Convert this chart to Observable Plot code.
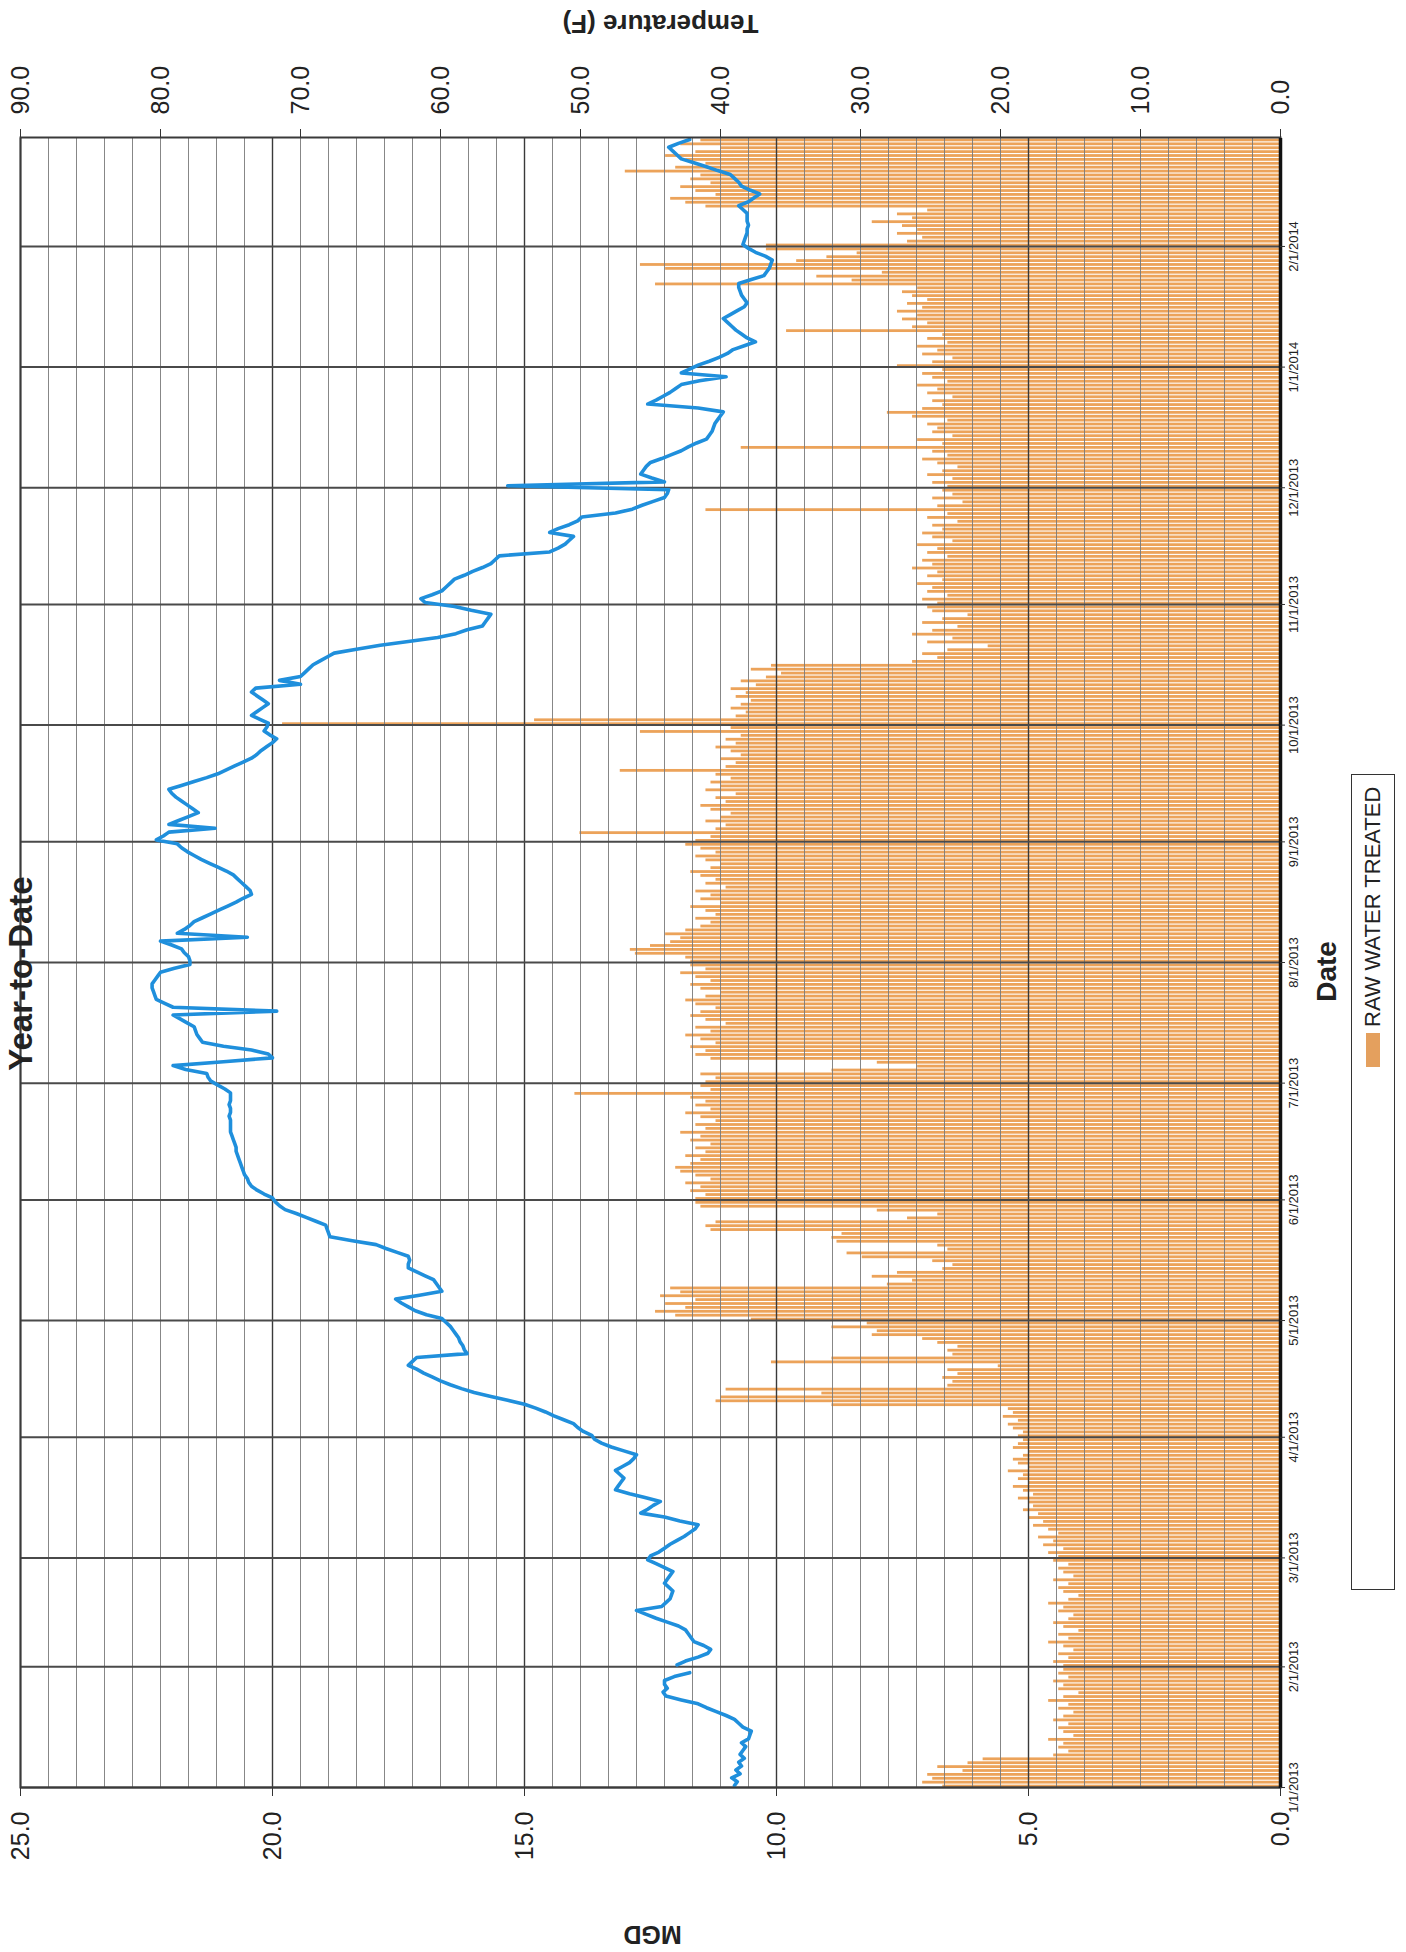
<!DOCTYPE html>
<html><head><meta charset="utf-8">
<script src="https://cdn.jsdelivr.net/npm/d3@7"></script>
<script src="https://cdn.jsdelivr.net/npm/@observablehq/plot@0.6"></script>
<style>
html,body{margin:0;padding:0;background:#fff;overflow:hidden;width:1406px;height:1952px;}
#page{position:absolute;left:0;top:0;width:1952px;height:1406px;transform-origin:0 0;transform:translate(0,1952px) rotate(-90deg);font-family:"Liberation Sans",Arial,sans-serif;background:#fff;}
#page svg{position:absolute;left:0;top:0;}
#legend{position:absolute;left:362px;top:1351px;width:816px;height:44px;border:1.5px solid #333;box-sizing:border-box;background:#fff;}
#legend .sw{position:absolute;left:522px;top:14px;width:34px;height:14px;background:#e4a05e;}
#legend .lb{position:absolute;left:562px;top:8px;font-size:22px;line-height:26px;color:#222;white-space:nowrap;}
</style></head><body><div id="page"><div id="legend"><div class="sw"></div><div class="lb">RAW WATER TREATED</div></div></div>
<script>
// ---------- data (daily) ----------
const seriesName = "RAW WATER TREATED";
const startDay = [2013, 0, 1];
const endDay = [2014, 2, 1];

// Raw water treated, MGD, one value per day
const mgdJan2013 = [6.7,7.1,6.9,7.0,6.3,6.8,6.2,5.9,4.5,4.2,4.4,4.3,4.6,4.1,4.3,4.4,4.2,4.5,4.3,4.1,4.4,4.2,4.6,4.3,4.0,4.4,4.3,4.5,4.2,4.4,4.3];
const mgdFeb2013 = [4.3,4.5,4.2,4.4,4.1,4.3,4.6,4.2,4.4,4.0,4.3,4.5,4.2,4.1,4.4,4.3,4.6,4.2,4.0,4.3,4.4,4.2,4.5,4.1,4.3,4.4,4.2,4.5];
const mgdMar2013 = [4.4,4.6,4.3,4.7,4.5,4.8,4.4,4.6,4.9,4.7,5.0,4.8,5.1,4.9,5.0,5.2,4.9,5.1,5.3,5.0,5.2,5.1,5.4,5.0,5.2,5.3,5.1,5.0,5.3,5.2,5.1];
const mgdApr2013 = [5.2,5.1,5.3,5.4,5.2,5.5,5.3,5.4,8.9,11.2,11.1,9.1,11.0,6.6,6.5,6.7,6.4,6.6,5.6,10.1,8.9,6.5,6.6,6.4,6.8,7.1,8.1,8.0,8.9,8.2];
const mgdMay2013 = [10.5,12.0,12.4,11.8,12.2,11.6,12.3,11.9,12.1,7.8,7.3,8.1,7.6,6.7,6.5,6.9,8.3,8.6,6.6,6.8,8.8,8.9,8.7,11.3,11.4,11.2,7.4,6.8,8.0,11.5,11.6];
const mgdJun2013 = [11.6,11.4,11.7,11.5,11.8,11.3,11.6,11.9,12.0,11.7,11.5,11.8,11.4,11.6,11.3,11.7,11.5,11.9,11.4,11.6,11.2,11.5,11.8,11.3,11.6,11.4,11.7,14.0,11.3,11.5];
const mgdJul2013 = [11.4,11.2,11.5,8.9,7.2,8.0,11.3,11.6,11.4,11.7,11.2,11.5,11.8,11.3,11.6,11.0,11.4,11.7,11.5,11.2,11.6,11.8,11.4,11.1,11.5,11.7,11.3,11.6,11.9,11.4,11.7];
const mgdAug2013 = [11.7,11.8,12.8,12.9,12.5,12.1,11.9,12.2,11.8,11.5,11.3,11.6,11.2,11.4,11.7,11.1,11.5,11.3,11.6,11.0,11.4,11.2,11.5,11.7,11.3,11.1,11.4,11.6,11.2,11.5,11.8];
const mgdSep2013 = [11.6,11.3,13.9,11.2,11.0,11.4,11.1,10.9,11.3,11.5,11.0,11.2,10.8,11.4,11.1,11.3,10.9,11.2,13.1,11.0,10.8,11.1,10.7,10.9,11.2,10.8,11.0,10.7,12.7,10.9];
const mgdOct2013 = [19.8,14.8,10.8,10.6,10.9,10.7,10.5,10.8,10.6,10.9,10.4,10.7,10.2,9.9,10.5,10.1,7.3,6.8,7.1,6.6,5.8,7.0,6.5,7.3,6.9,6.4,7.1,6.7,6.2,6.9,7.0];
const mgdNov2013 = [6.8,7.1,6.6,7.0,6.9,7.2,6.7,7.0,6.8,7.3,6.9,7.1,6.6,7.0,6.8,7.2,6.5,6.9,7.1,6.7,6.9,6.4,7.0,6.6,11.4,6.8,6.3,6.9,6.5,6.7];
const mgdDec2013 = [6.6,6.9,6.5,7.0,6.7,6.4,6.8,7.1,6.6,6.9,10.7,6.7,7.2,6.5,6.9,6.8,7.0,6.6,7.3,7.8,7.1,6.7,6.9,6.5,7.0,6.8,7.2,6.6,6.9,7.1,6.7];
const mgdJan2014 = [7.6,6.9,6.5,7.1,6.8,7.2,6.6,7.0,6.7,9.8,7.3,7.0,7.5,7.2,7.6,7.1,7.4,7.0,7.3,7.5,7.2,12.4,8.5,9.2,7.9,12.2,12.7,9.6,9.0,8.4,10.2];
const mgdFeb2014 = [10.2,7.4,7.1,7.6,7.2,7.5,8.1,7.3,7.6,7.0,11.4,11.8,12.1,11.2,11.6,11.9,11.3,11.7,11.5,13.0,12.0,11.4,11.8,12.2,11.6,11.1,11.9,11.5];

// Temperature, F, one value per day (null = missing)
const tempJan2013 = [39.0,38.8,39.2,38.6,38.9,38.5,38.7,38.3,38.6,38.4,38.2,38.5,38.0,37.9,37.8,38.4,38.7,39.0,39.6,40.3,41.0,41.6,42.8,43.9,44.1,43.8,44.0,44.0,43.3,42.2,null];
const tempFeb2013 = [43.1,42.5,41.6,40.9,40.7,41.2,41.9,42.1,42.3,42.5,43.0,43.8,44.6,45.3,46.0,44.2,43.9,43.6,43.5,43.4,43.7,44.0,43.8,43.6,43.4,44.0,44.6,45.2];
const tempMar2013 = [45.0,44.4,44.0,43.6,43.1,42.6,42.2,41.8,41.6,42.9,44.0,45.7,45.2,44.8,44.3,45.4,46.5,47.5,47.3,47.1,46.9,47.2,47.5,47.0,46.5,46.2,46.0,46.9,47.8,48.5,49.0];
const tempApr2013 = [49.2,49.8,50.2,50.5,51.2,51.9,52.5,53.2,54.0,55.2,56.4,57.6,58.5,59.3,60.0,60.6,61.2,61.7,62.3,62.0,61.7,58.1,58.3,58.4,58.6,58.7,58.9,59.1,59.3,59.6];
const tempMay2013 = [59.9,61.0,61.8,62.3,62.8,63.2,61.5,59.9,60.1,60.3,60.5,61.1,61.7,62.3,62.3,62.2,62.3,63.1,63.9,64.6,66.3,67.9,68.0,68.1,68.2,68.9,69.6,70.3,71.1,71.5,71.8];
const tempJun2013 = [72.0,72.6,73.1,73.5,73.7,73.8,74.0,74.1,74.2,74.3,74.4,74.5,74.6,74.6,74.7,74.8,74.9,75.0,75.0,75.0,75.0,75.1,75.0,75.0,75.1,75.0,75.0,75.0,75.4,75.9];
const tempJul2013 = [76.4,76.6,76.7,78.2,79.1,75.5,72.0,72.3,73.5,75.5,77.0,77.2,77.4,77.5,77.6,78.1,78.6,79.1,71.7,79.1,79.7,80.3,80.4,80.5,80.6,80.6,80.4,80.2,80.0,79.0,77.9];
const tempAug2013 = [77.9,78.0,78.3,78.5,79.2,80.0,73.8,78.8,78.3,77.9,77.6,77.0,76.4,75.8,75.2,74.6,74.1,73.5,73.6,73.9,74.2,74.5,74.8,75.3,75.9,76.5,77.1,77.6,78.1,78.5,78.8];
const tempSep2013 = [80.3,79.8,79.4,76.1,79.4,78.7,78.0,77.3,77.7,78.1,78.5,78.9,79.2,79.4,78.5,77.6,76.7,75.9,75.3,74.7,74.1,73.5,73.1,72.8,72.4,72.0,71.7,72.2,72.6,72.4];
const tempOct2013 = [72.3,72.9,73.5,73.1,72.7,72.3,72.7,73.1,73.5,73.2,70.0,71.5,70.0,69.7,69.4,69.1,68.6,68.1,67.6,66.0,64.3,62.3,60.2,58.9,58.1,57.0,56.8,56.6,56.4,57.8,59.0];
const tempNov2013 = [61.1,61.4,60.6,59.9,59.6,59.3,59.0,58.3,57.7,57.0,56.4,56.1,55.8,52.2,51.6,51.1,50.8,50.5,52.2,51.6,50.8,50.2,49.9,47.5,46.3,45.6,44.8,44.0,43.8,43.7];
const tempDec2013 = [55.2,44.0,44.9,45.7,45.5,45.3,45.0,44.2,43.5,42.8,42.3,41.7,41.0,40.8,40.6,40.5,40.4,40.2,40.0,39.8,41.6,45.2,44.6,44.1,43.6,43.2,42.8,41.5,39.6,42.8,42.2];
const tempJan2014 = [41.6,40.8,40.1,39.5,39.1,38.3,37.5,38.1,38.5,38.9,39.2,39.5,39.8,39.3,38.8,38.3,38.1,38.3,38.5,38.6,38.7,38.7,37.8,36.9,36.7,36.5,36.4,36.3,36.8,37.5,38.0];
const tempFeb2014 = [38.4,38.3,38.2,38.1,38.1,38.0,38.1,38.1,38.1,38.4,38.7,38.0,37.6,37.2,37.9,38.5,38.7,39.0,39.3,40.2,41.0,41.9,42.8,43.1,43.4,43.7,43.0,42.2];

// Axis ticks and labels
const monthTicks = ["1/1/2013","2/1/2013","3/1/2013","4/1/2013","5/1/2013","6/1/2013","7/1/2013","8/1/2013","9/1/2013","10/1/2013","11/1/2013","12/1/2013","1/1/2014","2/1/2014"];
const mgdTicks = [0, 5, 10, 15, 20, 25];
const tempTicks = [0, 10, 20, 30, 40, 50, 60, 70, 80, 90];
const tempMax = 90, mgdMax = 25;

// ---------- build ----------
const rawWaterMGD = [].concat(mgdJan2013, mgdFeb2013, mgdMar2013, mgdApr2013, mgdMay2013, mgdJun2013, mgdJul2013, mgdAug2013, mgdSep2013, mgdOct2013, mgdNov2013, mgdDec2013, mgdJan2014, mgdFeb2014);
const waterTempF = [].concat(tempJan2013, tempFeb2013, tempMar2013, tempApr2013, tempMay2013, tempJun2013, tempJul2013, tempAug2013, tempSep2013, tempOct2013, tempNov2013, tempDec2013, tempJan2014, tempFeb2014);
const day0 = new Date(Date.UTC(...startDay));
const dayEnd = new Date(Date.UTC(...endDay));
const rows = rawWaterMGD.map((v, i) => ({
  date: d3.utcDay.offset(day0, i),
  next: d3.utcDay.offset(day0, i + 1),
  mid: d3.utcHour.offset(d3.utcDay.offset(day0, i), 12),
  mgd: v,
  temp: waterTempF[i]
}));
const parseMDY = d3.utcParse("%m/%d/%Y");
const monthDates = monthTicks.map(parseMDY);
const k = mgdMax / tempMax; // temperature -> shared y units
const tempGrid = d3.range(0, tempMax + 1, 2).map(t => t * k);

const chart = Plot.plot({
  width: 1952, height: 1406,
  marginLeft: 164, marginRight: 138, marginTop: 20, marginBottom: 126,
  x: {type: "utc", domain: [day0, dayEnd]},
  y: {domain: [0, mgdMax]},
  style: {fontFamily: "'Liberation Sans', Arial, sans-serif", background: "white", color: "#222"},
  marks: [
    Plot.rectY(rows, {x1: "date", x2: "next", y1: 0, y2: "mgd", fill: "#eca35a", insetLeft: 0.55, insetRight: 0.55}),
    Plot.gridY(tempGrid, {stroke: "#7a7a7a", strokeOpacity: 0.9, strokeWidth: 1}),
    Plot.gridY(mgdTicks, {stroke: "#3a3a3a", strokeOpacity: 1, strokeWidth: 1.4}),
    Plot.gridX(monthDates, {stroke: "#4a4a4a", strokeOpacity: 1, strokeWidth: 2}),
    Plot.lineY(rows, {x: "mid", y: d => d.temp == null ? NaN : d.temp * k, stroke: "#1f8fdc", strokeWidth: 3.6, curve: "linear"}),
    Plot.frame({stroke: "#3a3a3a", strokeWidth: 2}),
    Plot.ruleY([0], {stroke: "#111", strokeWidth: 3.5}),
    Plot.axisY(mgdTicks, {anchor: "left", tickFormat: d => d.toFixed(1), fontSize: 25, tickSize: 8, tickPadding: 16, label: null, stroke: "#333"}),
    Plot.axisY(tempTicks.map(t => t * k), {anchor: "right", tickFormat: d => (d / k).toFixed(1), fontSize: 25, tickSize: 8, tickPadding: 15, label: null, stroke: "#333"}),
    Plot.axisX(monthDates, {anchor: "bottom", tickFormat: d3.utcFormat("%-m/%-d/%Y"), fontSize: 13, tickSize: 5, tickPadding: 3, label: null, stroke: "#333"}),
    Plot.text(["MGD"], {frameAnchor: "left", textAnchor: "middle", lineAnchor: "middle", dx: -146, dy: 2, rotate: -90, fontSize: 25, fontWeight: "bold"}),
    Plot.text(["Temperature (F)"], {frameAnchor: "right", textAnchor: "middle", lineAnchor: "middle", dx: 114, dy: 10, rotate: -90, fontSize: 26, fontWeight: "bold"}),
    Plot.text(["Date"], {frameAnchor: "bottom", textAnchor: "middle", lineAnchor: "middle", dx: -9, dy: 47, fontSize: 28, fontWeight: "bold"}),
    Plot.text(["Year-to-Date"], {frameAnchor: "top", textAnchor: "middle", lineAnchor: "top", dx: -11, dy: -12, fontSize: 33, fontWeight: "bold"})
  ]
});
document.getElementById("page").insertBefore(chart, document.getElementById("legend"));
</script>
</body></html>
